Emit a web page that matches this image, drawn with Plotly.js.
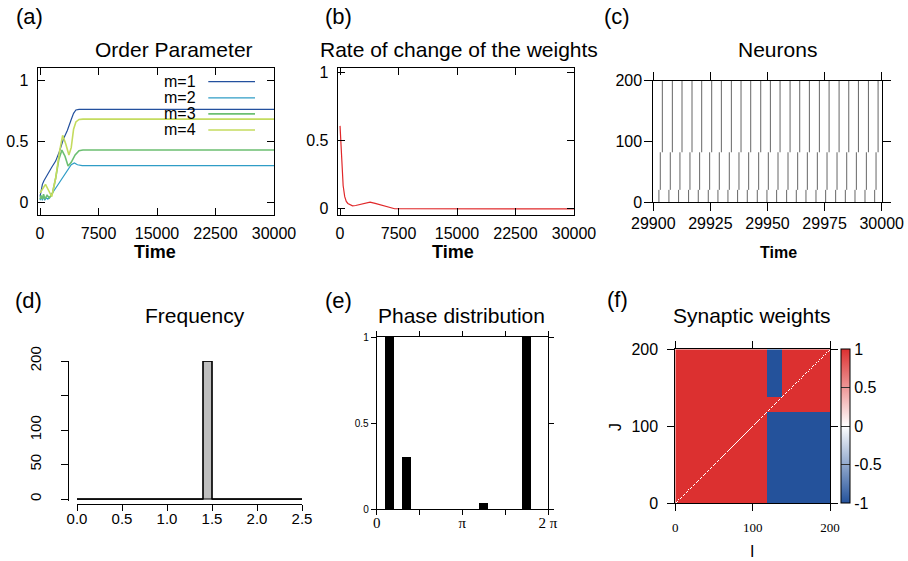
<!DOCTYPE html>
<html><head><meta charset="utf-8">
<script src="https://cdn.plot.ly/plotly-3.0.1.min.js"></script>
<style>html,body{margin:0;padding:0;background:#fff}#chart{width:908px;height:561px}</style>
</head><body><div id="chart"></div>
<script>
// ---------- (a) Order parameter ----------
const seriesNames = ['m=1', 'm=2', 'm=3', 'm=4'];
const seriesColors = ['#23509e', '#2f9dc6', '#6cbf72', '#c4db5e'];
const tM1 = [0, 150, 300, 500, 750, 1000, 1250, 1500, 2000, 2500, 3000, 3500, 4000, 4300, 4600, 5000, 30000];
const rM1 = [0.05, 0.12, 0.15, 0.18, 0.21, 0.24, 0.27, 0.29, 0.34, 0.42, 0.52, 0.59, 0.68, 0.73, 0.757, 0.762, 0.762];
const tM2 = [0, 150, 300, 450, 600, 800, 1000, 1300, 1700, 2100, 2500, 2800, 3200, 3600, 4000, 4400, 4800, 5400, 30000];
const rM2 = [0.02, 0.05, 0.02, 0.06, 0.02, 0.04, 0.03, 0.05, 0.09, 0.13, 0.16, 0.19, 0.24, 0.28, 0.31, 0.325, 0.31, 0.303, 0.303];
const tM3 = [0, 150, 300, 450, 600, 900, 1200, 1600, 2000, 2400, 2800, 3200, 3600, 4000, 4500, 5000, 5500, 30000];
const rM3 = [0.03, 0.06, 0.03, 0.07, 0.03, 0.06, 0.04, 0.08, 0.20, 0.35, 0.43, 0.38, 0.30, 0.33, 0.39, 0.425, 0.431, 0.431];
const tM4 = [0, 300, 700, 1100, 1500, 2000, 2500, 2900, 3300, 3700, 4000, 4300, 4600, 5000, 5500, 30000];
const rM4 = [0.08, 0.11, 0.15, 0.10, 0.05, 0.20, 0.42, 0.55, 0.48, 0.39, 0.45, 0.60, 0.66, 0.68, 0.683, 0.683];
const timeTicks = [0, 7500, 15000, 22500, 30000];
const timeTickText = ['0', '7500', '15000', '22500', '30000'];

// ---------- (b) Rate of change of the weights ----------
const tRate = [0, 100, 200, 300, 400, 600, 800, 1000, 1300, 1600, 2000, 2500, 3000, 3500, 3850, 4500, 5000, 5500, 6000, 6500, 7000, 30000];
const rate = [0.61, 0.50, 0.36, 0.25, 0.17, 0.09, 0.055, 0.04, 0.028, 0.022, 0.025, 0.032, 0.04, 0.047, 0.05, 0.04, 0.032, 0.022, 0.012, 0.004, 0.001, 0];

// ---------- (c) Neurons raster: spike times of three neuron groups ----------
const groupLow = [0, 20, 82];
const groupHigh = [20, 82, 200];
const spikeBottom = [29902.46, 29906.84, 29911.07, 29915.45, 29919.69, 29924.07, 29928.30, 29932.68, 29936.91, 29941.15, 29945.53, 29949.76, 29954.00, 29958.38, 29962.61, 29966.84, 29971.22, 29975.46, 29979.84, 29984.08, 29988.31, 29992.69, 29996.92];
const spikeMiddle = [29903.06, 29907.44, 29911.67, 29916.05, 29920.29, 29924.67, 29928.90, 29933.28, 29937.51, 29941.75, 29946.13, 29950.36, 29954.60, 29958.98, 29963.21, 29967.44, 29971.82, 29976.06, 29980.44, 29984.68, 29988.91, 29993.29, 29997.52];
const spikeTop = [29903.96, 29908.34, 29912.57, 29916.95, 29921.19, 29925.57, 29929.80, 29934.18, 29938.41, 29942.65, 29947.03, 29951.26, 29955.50, 29959.88, 29964.11, 29968.34, 29972.72, 29976.96, 29981.34, 29985.58, 29989.81, 29994.19, 29998.42];
const rasterTicks = [29900, 29925, 29950, 29975, 30000];
const rasterTickText = ['29900', '29925', '29950', '29975', '30000'];

// ---------- (d) Frequency histogram ----------
const freqEdges = [0.0, 0.1, 0.2, 0.3, 0.4, 0.5, 0.6, 0.7, 0.8, 0.9, 1.0, 1.1, 1.2, 1.3, 1.4, 1.5, 1.6, 1.7, 1.8, 1.9, 2.0, 2.1, 2.2, 2.3, 2.4, 2.5];
const freqCounts = [0, 0, 0, 0, 0, 0, 0, 0, 0, 0, 0, 0, 0, 0, 200, 0, 0, 0, 0, 0, 0, 0, 0, 0, 0];
const freqTickVals = [0, 0.5, 1.0, 1.5, 2.0, 2.5];
const freqTickText = ['0.0', '0.5', '1.0', '1.5', '2.0', '2.5'];
const countTickVals = [0, 50, 100, 150, 200];
const countTickText = ['0', '50', '100', '', '200'];

// ---------- (e) Phase distribution ----------
const phaseCenters = [0.471, 1.100, 3.927, 5.498];
const phaseHeights = [1.0, 0.30, 0.035, 1.0];
const phaseBinWidth = 0.314;
const phaseTickVals = [0, Math.PI / 2, Math.PI, 3 * Math.PI / 2, 2 * Math.PI];
const phaseTickText = ['0', '', 'π', '', '2 π'];

// ---------- (f) Synaptic weights ----------
const nNeurons = 200;
const clusterStarts = [0, 118, 138];
const blockW = [   // blockW[cluster of I][cluster of J]
  [1, 1, 1],
  [-1, 1, -1],
  [-1, 1, 1]
];
const stripeRowJ = 118, stripeValue = -1;   // thin row seen for I in first cluster
const selfWeight = 0;
const weightTicks = [-1, -0.5, 0, 0.5, 1];
const weightTickText = ['-1', '-0.5', '0', '0.5', '1'];

// ================= build =================
const W = 908, H = 561;
const fx = p => p / W;
const fy = p => 1 - p / H;
const sans = 'Liberation Sans, Arial, Helvetica, sans-serif';
const serif = 'Liberation Serif, Times New Roman, serif';

function clusterOf(k) { let c = 0; for (let i = 0; i < clusterStarts.length; i++) if (k >= clusterStarts[i]) c = i; return c; }
const idx = Array.from({length: nNeurons}, (_, k) => k + 0.5);
const Z = [];
for (let j = 0; j < nNeurons; j++) {
  const row = [];
  for (let i = 0; i < nNeurons; i++) {
    let v = blockW[clusterOf(i)][clusterOf(j)];
    if (j === stripeRowJ && clusterOf(i) === 0) v = stripeValue;
    if (i === j) v = selfWeight;
    row.push(v);
  }
  Z.push(row);
}

const traces = [];
[[tM1, rM1], [tM2, rM2], [tM3, rM3], [tM4, rM4]].forEach((s, k) => {
  traces.push({x: s[0], y: s[1], type: 'scatter', mode: 'lines', name: seriesNames[k],
    line: {color: seriesColors[k], width: k >= 2 ? 1.6 : 1.2}, xaxis: 'x', yaxis: 'y', showlegend: false});
});
traces.push({x: tRate, y: rate, type: 'scatter', mode: 'lines', line: {color: '#e0282a', width: 1.2},
  xaxis: 'x2', yaxis: 'y2', showlegend: false});

const rx = [], ry = [];
[spikeBottom, spikeMiddle, spikeTop].forEach((arr, g) => {
  arr.forEach(t => { rx.push(t, t, null); ry.push(groupLow[g], groupHigh[g], null); });
});
traces.push({x: rx, y: ry, type: 'scatter', mode: 'lines', line: {color: '#666666', width: 1},
  xaxis: 'x3', yaxis: 'y3', showlegend: false});

const binCenters = freqCounts.map((c, i) => (freqEdges[i] + freqEdges[i + 1]) / 2);
traces.push({x: binCenters, y: freqCounts, type: 'bar', width: 0.1,
  marker: {color: '#bebebe', line: {color: '#000', width: 1}}, xaxis: 'x4', yaxis: 'y4', showlegend: false});
const sx = [], sy = [];
freqCounts.forEach((c, i) => { sx.push(freqEdges[i], freqEdges[i + 1]); sy.push(c, c); });
traces.push({x: sx, y: sy, type: 'scatter', mode: 'lines', line: {color: '#000', width: 1.3},
  xaxis: 'x4', yaxis: 'y4', showlegend: false});

traces.push({x: phaseCenters, y: phaseHeights, type: 'bar', width: phaseBinWidth,
  marker: {color: '#000', line: {width: 0}}, xaxis: 'x5', yaxis: 'y5', showlegend: false});

traces.push({x: idx, y: idx, z: Z, type: 'heatmap', zmin: -1, zmax: 1, zsmooth: false,
  colorscale: [[0, '#24529b'], [0.5, '#ffffff'], [1, '#dc3030']],
  colorbar: {x: fx(840.7), xanchor: 'left', y: fy(426.3), yanchor: 'middle', len: 154 / H, lenmode: 'fraction',
    thickness: 8.6, thicknessmode: 'pixels', xpad: 0, ypad: 0, outlinewidth: 1, outlinecolor: '#000',
    tickvals: weightTicks, ticktext: weightTickText, ticks: 'inside', ticklen: 8.6, tickcolor: '#333',
    tickfont: {family: sans, size: 16, color: '#000'}},
  xaxis: 'x6', yaxis: 'y6', showlegend: false});

const base = {showgrid: false, zeroline: false, showline: true, linecolor: '#000', linewidth: 1,
  tickcolor: '#000', tickwidth: 1, fixedrange: true};
function ax(o) { return Object.assign({}, base, o); }

const layout = {
  width: W, height: H, margin: {l: 0, r: 0, t: 0, b: 0}, paper_bgcolor: '#fff', plot_bgcolor: '#fff',
  showlegend: false, bargap: 0,
  font: {family: sans, color: '#000'},
  xaxis: ax({domain: [fx(37.7), fx(274)], range: [-300, 30000], anchor: 'y', tickvals: timeTicks, ticktext: timeTickText,
    ticks: 'inside', ticklen: 7, mirror: 'ticks', tickfont: {size: 16}, ticklabelstandoff: 4}),
  yaxis: ax({domain: [fy(215), fy(68)], range: [-0.1, 1.1], anchor: 'x', tickvals: [0, 0.5, 1], ticktext: ['0', '0.5', '1'],
    ticks: 'inside', ticklen: 7, mirror: 'ticks', tickfont: {size: 16}, ticklabelstandoff: 5}),
  xaxis2: ax({domain: [fx(337.7), fx(574)], range: [-300, 30000], anchor: 'y2', tickvals: timeTicks, ticktext: timeTickText,
    ticks: 'inside', ticklen: 7, mirror: 'ticks', tickfont: {size: 16}, ticklabelstandoff: 4}),
  yaxis2: ax({domain: [fy(215), fy(68)], range: [-0.045, 1.035], anchor: 'x2', tickvals: [0, 0.5, 1], ticktext: ['0', '0.5', '1'],
    ticks: 'inside', ticklen: 7, mirror: 'ticks', tickfont: {size: 16}, ticklabelstandoff: 5}),
  xaxis3: ax({domain: [fx(653.3), fx(881.7)], range: [29900, 30000], anchor: 'y3', tickvals: rasterTicks, ticktext: rasterTickText,
    ticks: 'outside', ticklen: 8, mirror: 'ticks', tickfont: {size: 16}, ticklabelstandoff: -1}),
  yaxis3: ax({domain: [fy(202), fy(80.7)], range: [0, 200], anchor: 'x3', tickvals: [0, 100, 200],
    ticks: 'outside', ticklen: 8, mirror: 'ticks', tickfont: {size: 16}, ticklabelstandoff: -1}),
  xaxis4: ax({domain: [fx(77), fx(302)], range: [0, 2.5], anchor: 'free', position: fy(504), tickvals: freqTickVals, ticktext: freqTickText,
    ticks: 'outside', ticklen: 6, tickfont: {size: 15}, ticklabelstandoff: -5}),
  yaxis4: ax({domain: [fy(501.1), fy(361)], range: [-3, 200], anchor: 'free', position: fx(68), tickvals: countTickVals, ticktext: countTickText,
    ticks: 'outside', ticklen: 7, tickangle: -90, tickfont: {size: 15}, ticklabelstandoff: 14}),
  xaxis5: ax({domain: [fx(376.7), fx(548)], range: [0, 2 * Math.PI], anchor: 'y5', tickvals: phaseTickVals, ticktext: phaseTickText,
    ticks: 'outside', ticklen: 5, mirror: 'ticks', tickfont: {family: serif, size: 15}, ticklabelstandoff: -5}),
  yaxis5: ax({domain: [fy(509), fy(337)], range: [0, 1], anchor: 'x5', tickvals: [0, 0.5, 1], ticktext: ['0', '0.5', '1'],
    ticks: 'outside', ticklen: 5, mirror: 'ticks', tickfont: {size: 10}}),
  xaxis6: ax({domain: [fx(675.3), fx(830)], range: [0, 200], anchor: 'y6', tickvals: [0, 100, 200],
    ticks: 'outside', ticklen: 7, mirror: 'ticks', tickfont: {family: serif, size: 13}, ticklabelstandoff: 5}),
  yaxis6: ax({domain: [fy(503.3), fy(349.3)], range: [0, 200], anchor: 'x6', tickvals: [0, 100, 200],
    ticks: 'outside', ticklen: 7, mirror: 'ticks', tickfont: {size: 16}, ticklabelstandoff: 6}),
  annotations: [],
  shapes: []
};

function note(text, x, y, o) {
  layout.annotations.push(Object.assign({text: text, x: fx(x), y: fy(y), xref: 'paper', yref: 'paper',
    showarrow: false, xanchor: 'center', yanchor: 'middle', font: {family: sans, size: 21, color: '#000'}}, o || {}));
}
// panel titles
note('Order Parameter', 174, 50);
note('Rate of change of the weights', 459, 49);
note('Neurons', 777, 49);
note('Frequency', 194.5, 315);
note('Phase distribution', 462, 315);
note('Synaptic weights', 752, 315);
// panel letters
note('(a)', 29, 17, {font: {family: sans, size: 22}});
note('(b)', 338, 17, {font: {family: sans, size: 22}});
note('(c)', 617, 16, {font: {family: sans, size: 22}});
note('(d)', 28.5, 300, {font: {family: sans, size: 22}});
note('(e)', 338, 300, {font: {family: sans, size: 22}});
note('(f)', 617, 299, {font: {family: sans, size: 22}});
// axis titles
note('<b>Time</b>', 155, 252, {font: {family: sans, size: 18}});
note('<b>Time</b>', 453, 252, {font: {family: sans, size: 18}});
note('<b>Time</b>', 778, 252, {font: {family: sans, size: 16}});
note('I', 752, 551, {font: {family: sans, size: 16}});
note('J', 615, 427, {font: {family: sans, size: 16}, textangle: -90});
// legend of (a)
seriesNames.forEach((n, k) => {
  const yy = 81.7 + 16.1 * k;
  note(n, 197.7, yy, {xanchor: 'right', font: {family: sans, size: 16}});
  layout.shapes.push({type: 'line', xref: 'paper', yref: 'paper', x0: fx(208.3), x1: fx(255), y0: fy(yy), y1: fy(yy),
    line: {color: seriesColors[k], width: k >= 2 ? 1.6 : 1.2}});
});

Plotly.newPlot('chart', traces, layout, {displayModeBar: false, staticPlot: true});
</script></body></html>
